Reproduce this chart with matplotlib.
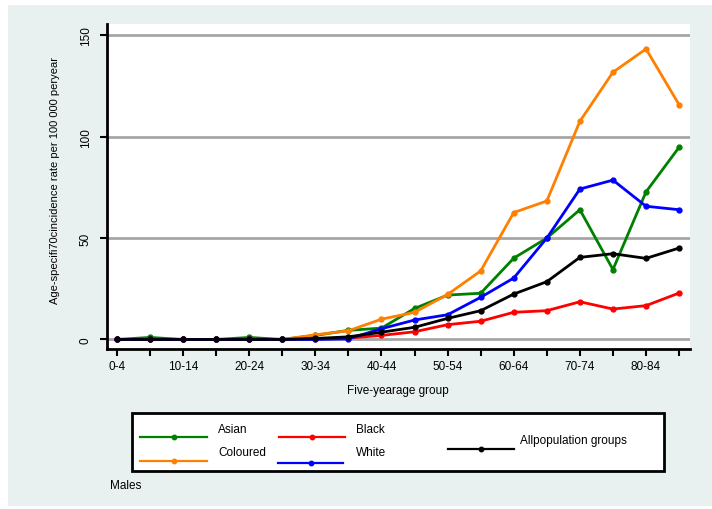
import matplotlib
matplotlib.use("Agg")
import matplotlib.pyplot as plt
from matplotlib.lines import Line2D
from matplotlib.patches import Rectangle

plt.rcParams['font.family'] = ['Liberation Sans', 'DejaVu Sans']

# Five-year age groups
age_groups = ['0-4', '5-9', '10-14', '15-19', '20-24', '25-29', '30-34', '35-39',
              '40-44', '45-49', '50-54', '55-59', '60-64', '65-69', '70-74',
              '75-79', '80-84', '85+']

# Age-specific incidence rate per 100 000 per year, males
asian = [0, 1.0, 0, 0, 1.0, 0, 2.0, 4.5, 5.6, 15.3, 21.9, 22.8, 40.1, 50.0, 64.0, 34.5, 72.8, 94.8]
coloured = [0, 0, 0, 0, 0, 0, 2.3, 4.3, 10.0, 13.4, 22.2, 33.8, 62.6, 68.3, 107.6, 131.8, 143.3, 115.8]
black = [0, 0, 0, 0, 0, 0, 0.3, 0.7, 2.0, 3.8, 7.3, 9.0, 13.4, 14.2, 18.6, 15.0, 16.7, 22.9]
white = [0, 0, 0, 0, 0, 0, 0, 0.3, 5.3, 9.6, 12.2, 20.8, 30.3, 50.0, 74.2, 78.6, 65.7, 64.0]
all_groups = [0, 0, 0, 0, 0, 0, 0.5, 1.3, 3.6, 6.0, 10.4, 14.2, 22.4, 28.5, 40.5, 42.3, 40.0, 45.1]

series = [
    ('Asian', asian, '#008000'),
    ('Coloured', coloured, '#ff8000'),
    ('Black', black, '#ff0000'),
    ('White', white, '#0000ff'),
    ('Allpopulation groups', all_groups, '#000000'),
]

W, H = 712, 510
fig = plt.figure(figsize=(W / 100, H / 100), dpi=100, facecolor='white')


def fx(px):
    return px / W


def fy(py):
    return 1 - py / H


# outer panel background
fig.add_artist(Rectangle((fx(8), fy(507)), fx(712) - fx(8), fy(6) - fy(507),
                         transform=fig.transFigure, facecolor='#e9f1f0',
                         edgecolor='none', zorder=0))

ax = fig.add_axes([fx(107), fy(350), fx(690) - fx(107), fy(25) - fy(350)])
ax.set_facecolor('white')

x = list(range(len(age_groups)))
for name, vals, color in series:
    ax.plot(x, vals, color=color, lw=2.0, marker='o', ms=3.5, zorder=3,
            solid_joinstyle='round')

ax.set_xlim(-0.3, 17.33)
ax.set_ylim(-4.7, 155.6)
ax.set_yticks([0, 50, 100, 150])
ax.set_xticks(x)
ax.set_xticklabels([g if i % 2 == 0 else '' for i, g in enumerate(age_groups)])

for v in [0, 50, 100, 150]:
    ax.axhline(v, color='#a6a6a6', lw=2.0, zorder=1)

for s in ['top', 'right']:
    ax.spines[s].set_visible(False)
for s in ['left', 'bottom']:
    ax.spines[s].set_linewidth(2.0)
    ax.spines[s].set_color('black')

ax.tick_params(axis='both', length=5, width=1.5, color='black', labelsize=8.5)
ax.tick_params(axis='x', pad=3)
ax.tick_params(axis='y', pad=6, labelrotation=90)
for lab in ax.get_yticklabels():
    lab.set_va('center')

fig.text(fx(55), fy(181), 'Age-specifi70cincidence rate per 100 000 peryear',
         rotation=90, ha='center', va='center', fontsize=8)
fig.text(fx(398), fy(391), 'Five-yearage group', ha='center', va='center',
         fontsize=8.5)

# legend panel
fig.add_artist(Rectangle((fx(132), fy(471.5)), fx(664) - fx(132), fy(414) - fy(471.5),
                         transform=fig.transFigure, facecolor='white',
                         edgecolor='black', lw=2.0, zorder=2))

legend_slots = {
    'Asian': (140, 207, 437.7, 218, 430),
    'Coloured': (140, 207, 462.3, 218, 453),
    'Black': (279, 345, 437.7, 356, 430),
    'White': (278, 343, 464, 356, 453),
    'Allpopulation groups': (448, 514, 450, 520, 441),
}
for name, vals, color in series:
    x0, x1, ly, tx, ty = legend_slots[name]
    fig.add_artist(Line2D([fx(x0), fx(x1)], [fy(ly), fy(ly)], transform=fig.transFigure,
                          color=color, lw=1.6, zorder=3))
    fig.add_artist(Line2D([fx((x0 + x1) / 2)], [fy(ly)], transform=fig.transFigure,
                          color=color, marker='o', ms=3.2, zorder=4))
    fig.text(fx(tx), fy(ty), name, ha='left', va='center', fontsize=8.5, zorder=4)

fig.text(fx(110), fy(486), 'Males', ha='left', va='center', fontsize=8.5)

fig.savefig('out.png', dpi=100, facecolor='white')
